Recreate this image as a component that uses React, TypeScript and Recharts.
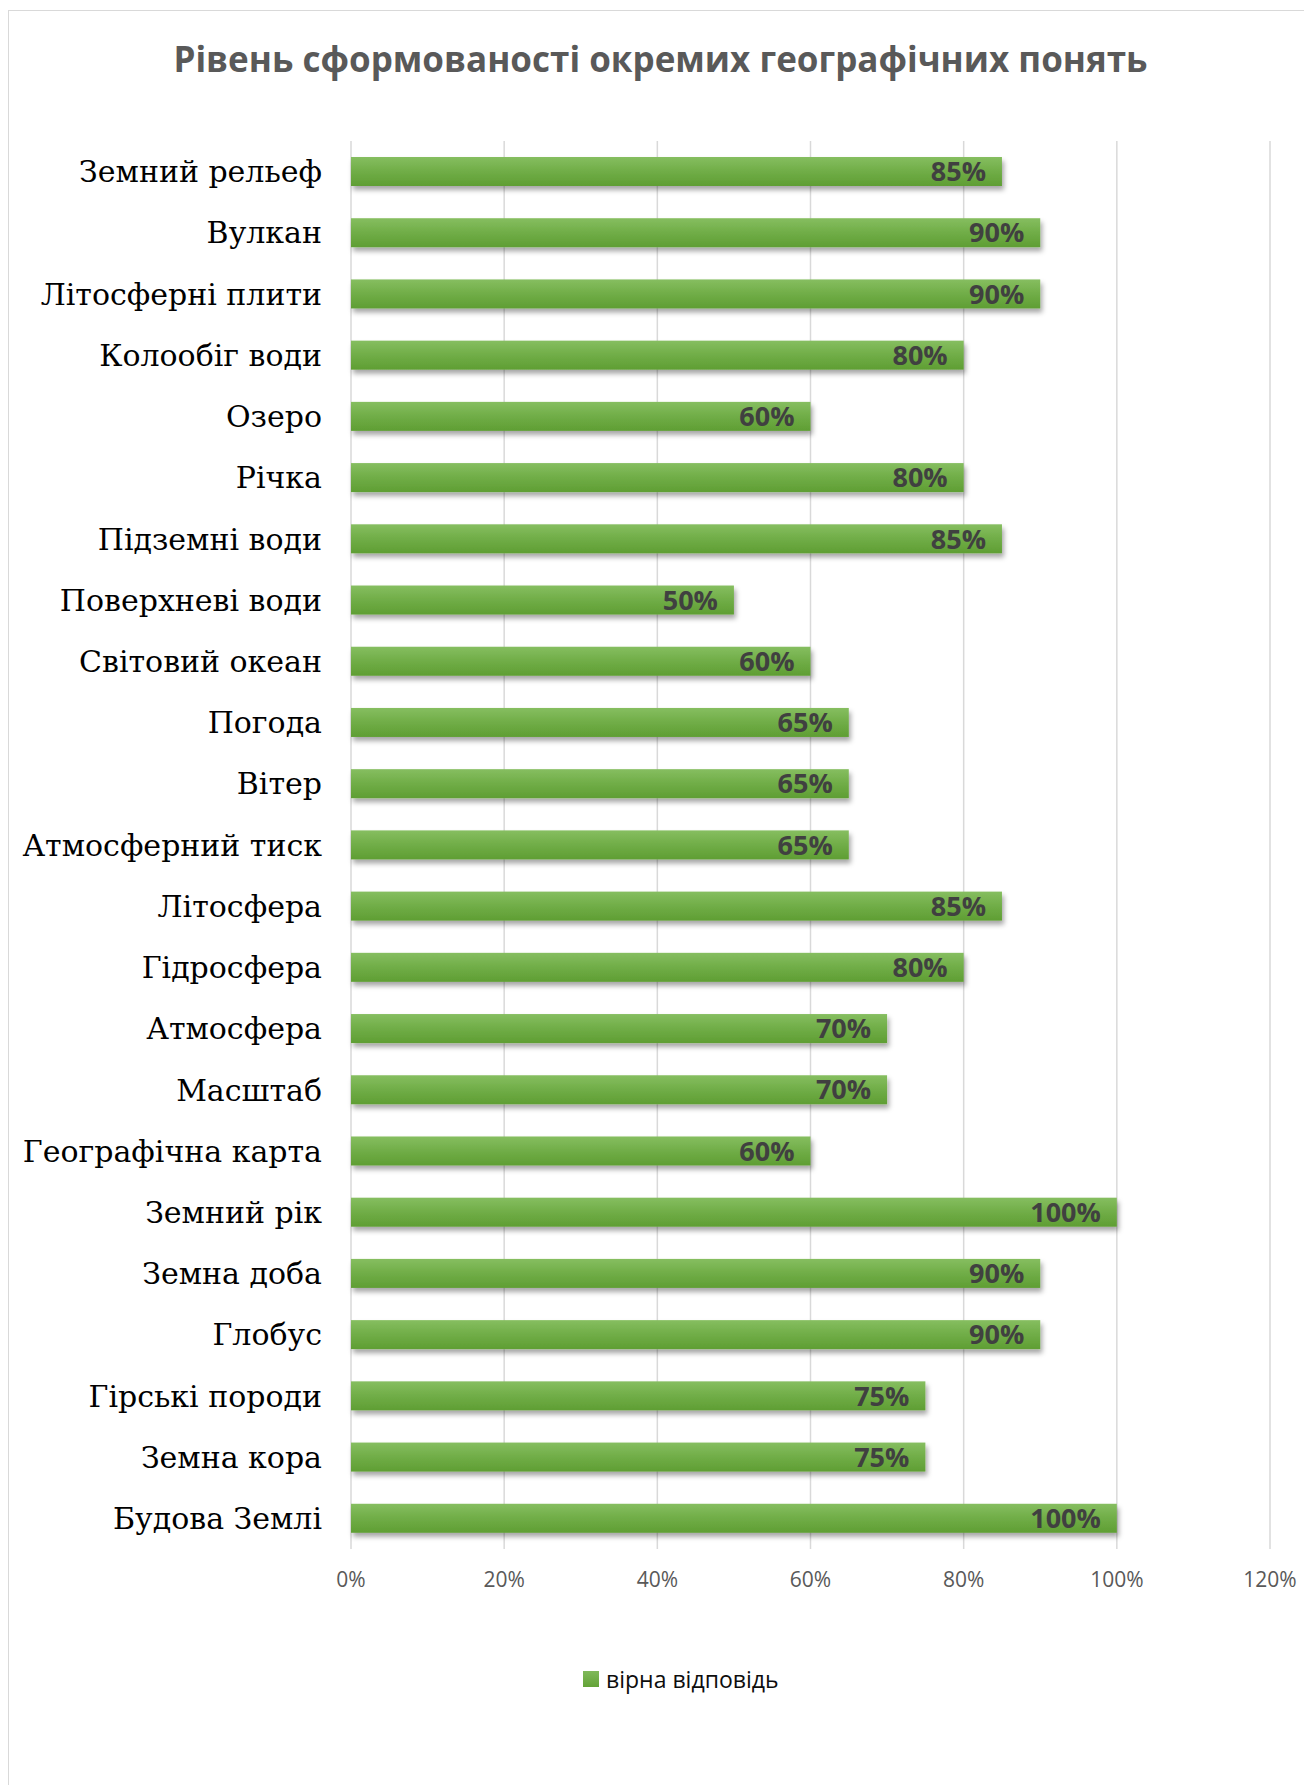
import React from 'react';
import { BarChart, Bar, XAxis, YAxis, CartesianGrid, LabelList } from 'recharts';

// categories top to bottom, as in the picture
const concepts = [
  'Земний рельеф',
  'Вулкан',
  'Літосферні плити',
  'Колообіг води',
  'Озеро',
  'Річка',
  'Підземні води',
  'Поверхневі води',
  'Світовий океан',
  'Погода',
  'Вітер',
  'Атмосферний тиск',
  'Літосфера',
  'Гідросфера',
  'Атмосфера',
  'Масштаб',
  'Географічна карта',
  'Земний рік',
  'Земна доба',
  'Глобус',
  'Гірські породи',
  'Земна кора',
  'Будова Землі',
];

const correctShare = [85, 90, 90, 80, 60, 80, 85, 50, 60, 65, 65, 65, 85, 80, 70, 70, 60, 100, 90, 90, 75, 75, 100];

const percentTicks = [0, 20, 40, 60, 80, 100, 120];

const seriesName = 'вірна відповідь';
const chartTitle = 'Рівень сформованості окремих географічних понять';

const chartData = concepts.map((name, i) => ({ name, value: correctShare[i] }));

const SANS = '"Open Sans", "Noto Sans", sans-serif';
const SERIF = '"DejaVu Serif", "Liberation Serif", serif';

const BarShape = (props: any) => {
  const { x, y, width, height } = props;
  if (!width || width <= 0) return null;
  return <rect x={x} y={y} width={width} height={height} fill="url(#barGrad)" filter="url(#barShadow)" />;
};

const ValueLabel = (props: any) => {
  const { x, y, width, height, value } = props;
  return (
    <text
      x={x + width - 16}
      y={y + height / 2}
      dy="0.36em"
      textAnchor="end"
      fill="#404040"
      fontFamily={SANS}
      fontWeight={700}
      fontSize={27}
    >
      {`${value}%`}
    </text>
  );
};

export default function App() {
  return (
    <div style={{ position: 'absolute', left: 0, top: 0, width: 1304, height: 1785, overflow: 'hidden', background: '#fff' }}>
      {/* chart area border, cropped on the right and bottom */}
      <div
        style={{
          position: 'absolute',
          left: 8,
          top: 10,
          width: 1320,
          height: 1800,
          border: '1.5px solid #d9d9d9',
          boxSizing: 'border-box',
        }}
      />
      <div
        style={{
          position: 'absolute',
          left: 160,
          width: 1001,
          top: 38,
          lineHeight: '42px',
          textAlign: 'center',
          fontFamily: SANS,
          fontWeight: 700,
          fontSize: 35,
          color: '#595959',
          whiteSpace: 'nowrap',
        }}
      >
        {chartTitle}
      </div>
      <div style={{ position: 'absolute', left: 0, top: 0 }}>
        <BarChart
          width={1304}
          height={1785}
          data={chartData}
          layout="vertical"
          margin={{ top: 141, right: 34, bottom: 176, left: 0 }}
          barSize={29}
        >
          <defs>
            <linearGradient id="barGrad" x1="0" y1="0" x2="0" y2="1">
              <stop offset="0%" stopColor="#86be60" />
              <stop offset="50%" stopColor="#70ad47" />
              <stop offset="100%" stopColor="#5f9e33" />
            </linearGradient>
            <filter id="barShadow" x="-5%" y="-30%" width="110%" height="180%">
              <feDropShadow dx="2" dy="4" stdDeviation="2.5" floodColor="#000" floodOpacity="0.35" />
            </filter>
          </defs>
          <CartesianGrid horizontal={false} stroke="#d9d9d9" strokeWidth={1.5} />
          <XAxis
            type="number"
            domain={[0, 120]}
            ticks={percentTicks}
            tickFormatter={(v: number) => `${v}%`}
            axisLine={false}
            tickLine={false}
            tickSize={0}
            tickMargin={23}
            height={60}
            interval={0}
            tick={{ fill: '#595959', fontFamily: SANS, fontSize: 21 }}
          />
          <YAxis
            type="category"
            dataKey="name"
            width={351}
            axisLine={false}
            tickLine={false}
            tickSize={0}
            tickMargin={29}
            interval={0}
            tick={{ fill: '#000', fontFamily: SERIF, fontSize: 30 }}
          />
          <Bar dataKey="value" name={seriesName} shape={BarShape} isAnimationActive={false}>
            <LabelList dataKey="value" content={ValueLabel} />
          </Bar>
        </BarChart>
      </div>
      {/* legend */}
      <div
        style={{
          position: 'absolute',
          left: 583,
          top: 1663,
          display: 'flex',
          alignItems: 'center',
          fontFamily: SANS,
          fontSize: 23,
          color: '#0d0d0d',
          whiteSpace: 'nowrap',
        }}
      >
        <span style={{ display: 'inline-block', width: 16, height: 16, background: 'linear-gradient(#80b95a, #63a337)', marginRight: 7 }} />
        <span>{seriesName}</span>
      </div>
    </div>
  );
}
